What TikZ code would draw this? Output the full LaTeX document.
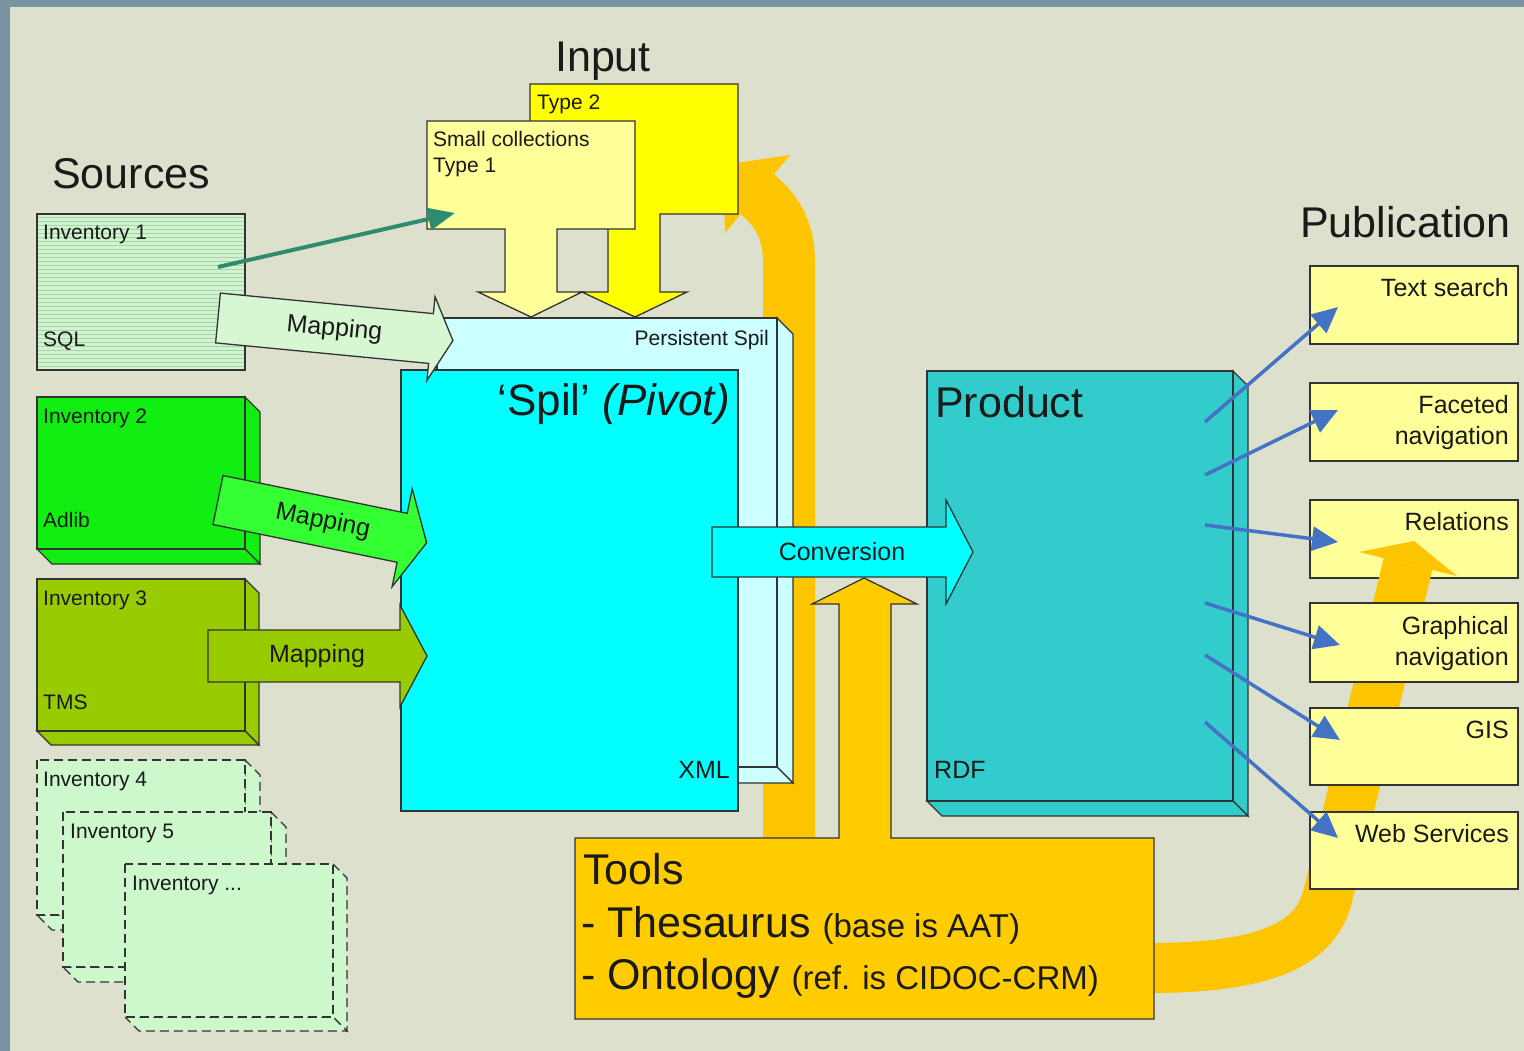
\documentclass[tikz,border=0pt]{standalone}
\usepackage{fontspec}
\setmainfont{Liberation Sans}
\usetikzlibrary{arrows.meta}
\definecolor{bgc}{HTML}{DDE0CD}
\definecolor{brd}{HTML}{7A93A3}
\definecolor{inv1}{HTML}{D2F3D2}
\definecolor{inv1s}{HTML}{A3D6A3}
\definecolor{inv2}{HTML}{11EE11}
\definecolor{inv3}{HTML}{99CC00}
\definecolor{invx}{HTML}{CCF8CC}
\definecolor{map1}{HTML}{D6F7D2}
\definecolor{map2}{HTML}{33FF33}
\definecolor{typeA}{HTML}{FFFF99}
\definecolor{typeB}{HTML}{FFFF00}
\definecolor{pers}{HTML}{CCFFFF}
\definecolor{spil}{HTML}{00FFFF}
\definecolor{prod}{HTML}{33CCCC}
\definecolor{tools}{HTML}{FFCC00}
\definecolor{orng}{HTML}{FCC500}
\definecolor{pubc}{HTML}{FFFF99}
\definecolor{blu}{HTML}{4472C4}
\definecolor{grn}{HTML}{2E8B6E}
\definecolor{ink}{HTML}{1A1A1A}
\definecolor{edge}{HTML}{333333}
\newcommand\cubebox[6]{%
  \draw[#6] (#3,#2) -- (#3+#5,#2+#5) -- (#3+#5,#4+#5) -- (#3,#4) -- cycle;
  \draw[#6] (#1,#4) -- (#3,#4) -- (#3+#5,#4+#5) -- (#1+#5,#4+#5) -- cycle;
  \draw[#6] (#1,#2) rectangle (#3,#4);
}
\begin{document}
\begin{tikzpicture}[x={(1pt,0)}, y={(0,-1pt)}, line join=miter,
  outl/.style={draw=edge, line width=1.3},
  txs/.style={font=\fontsize{21}{25}\selectfont, inner sep=0, text=ink},
  txm/.style={font=\fontsize{25}{30}\selectfont, inner sep=0, text=ink},
  txl/.style={font=\fontsize{43}{50}\selectfont, inner sep=0, text=ink},
  pubbox/.style={outl, fill=pubc},
  bluarrow/.style={draw=blu, line width=3.5, -{Triangle[length=26pt,width=24pt]}},
  dashbox/.style={outl, fill=invx, dash pattern=on 9pt off 5pt}]
\useasboundingbox (0,0) rectangle (1524,1051);
% background
\fill[brd] (0,0) rectangle (1524,1051);
\fill[bgc] (10,7) rectangle (1524,1051);

% top curved orange arrow
\draw[orng, line width=52] (789,842) -- (789,262) .. controls (789,228) and (775,209) .. (757,194);
\fill[orng] (790,155) -- (723,165) -- (725,233) -- cycle;

% input boxes
\draw[outl, fill=typeB] (530,84) -- (738,84) -- (738,214) -- (660,214) -- (660,292) -- (687,292) -- (635,317) -- (582,292) -- (608,292) -- (608,214) -- (530,214) -- cycle;
\draw[outl, fill=typeA] (427,121) -- (635,121) -- (635,229) -- (557,229) -- (557,292) -- (582,292) -- (531,317) -- (478,292) -- (505,292) -- (505,229) -- (427,229) -- cycle;
\node[txs, anchor=base west] (t2) at (537,110) {Type 2};
\node[txs, anchor=base west] (sc) at (433,147) {Small collections};
\node[txs, anchor=base west] (t1) at (433,173) {Type 1};

% persistent spil
\cubebox{437}{318}{777}{767}{16}{outl, fill=pers}
\node[txs, anchor=base east] (ps) at (769,345) {Persistent Spil};

% spil
\draw[outl, fill=spil] (401,370) rectangle (738,811);
\node[font=\fontsize{44}{50}\selectfont, inner sep=0, text=ink, anchor=base east] (spl) at (730,415) {‘Spil’ \textit{(Pivot)}};
\node[txm, anchor=base east] (xml) at (730,778) {XML};

% inventory 1
\fill[inv1] (37,214) rectangle (245,370);
\foreach \yy in {218,222,...,366} \draw[inv1s, line width=1] (38,\yy) -- (244,\yy);
\draw[outl] (37,214) rectangle (245,370);
\node[txs, anchor=base west] (i1) at (43,240) {Inventory 1};
\node[txs, anchor=base west] (sql) at (43,346) {SQL};

% inventory 2,3
\cubebox{37}{397}{245}{549}{15}{outl, fill=inv2}
\node[txs, anchor=base west] (i2) at (43,423) {Inventory 2};
\node[txs, anchor=base west] (adl) at (43,527) {Adlib};
\cubebox{37}{579}{245}{731}{14}{outl, fill=inv3}
\node[txs, anchor=base west] (i3) at (43,605) {Inventory 3};
\node[txs, anchor=base west] (tms) at (43,709) {TMS};

% inventory 4,5,...
\cubebox{37}{760}{245}{915}{15}{dashbox}
\node[txs, anchor=base west] (i4) at (43,786) {Inventory 4};
\cubebox{63}{812}{271}{967}{15}{dashbox}
\node[txs, anchor=base west] (i5) at (70,838) {Inventory 5};
\cubebox{125}{864}{333}{1017}{14}{dashbox}
\node[txs, anchor=base west] (ix) at (132,890) {Inventory ...};

% mapping arrows
\begin{scope}[shift={(218,318)}, rotate=-5.5]
  \draw[outl, fill=map1] (0,-25) -- (214,-25) -- (214,-42) -- (236,0) -- (214,42) -- (214,25) -- (0,25) -- cycle;
  \node[txm, transform shape] (m1) at (117,0) {Mapping};
\end{scope}
\begin{scope}[shift={(218,500)}, rotate=-11.6]
  \draw[outl, fill=map2] (0,-25) -- (188,-25) -- (188,-50) -- (213,0) -- (188,50) -- (188,25) -- (0,25) -- cycle;
  \node[txm, transform shape] (m2) at (107,0) {Mapping};
\end{scope}
\draw[outl, fill=inv3] (208,630) -- (400,630) -- (400,605) -- (427,656) -- (400,707) -- (400,682) -- (208,682) -- cycle;
\node[txm] (m3) at (317,656) {Mapping};

% green arrow
\coordinate (ga) at (218,267);
\coordinate (gb) at (455,213);
\draw[grn, line width=4, -{Triangle[length=27pt,width=22pt]}] (ga) -- (gb);

% product
\cubebox{927}{371}{1233}{801}{15}{outl, fill=prod}
\node[font=\fontsize{43}{50}\selectfont, inner sep=0, text=ink, anchor=base west] (prd) at (935,417) {Product};
\node[txm, anchor=base west] (rdf) at (934,778) {RDF};

% conversion
\draw[outl, fill=spil] (712,527) -- (946,527) -- (946,500) -- (973,552) -- (946,604) -- (946,577) -- (712,577) -- cycle;
\node[txm] (conv) at (842,552) {Conversion};

% publication boxes (upper)
\draw[pubbox] (1310,266) rectangle (1518,344);
\node[txm, anchor=base east] (ts) at (1509,297) {Text search};
\draw[pubbox] (1310,383) rectangle (1518,461);
\node[txm, anchor=base east] (fa1) at (1509,413) {Faceted};
\node[txm, anchor=base east] (fa2) at (1509,444) {navigation};
\draw[pubbox] (1310,500) rectangle (1518,578);
\node[txm, anchor=base east] (rel) at (1509,530) {Relations};

% bottom curved orange arrow
\draw[orng, line width=50] (1150,968) .. controls (1270,968) and (1317,942) .. (1328,895) -- (1408,564);
\fill[orng] (1359,552) -- (1414,541) -- (1457,576) -- cycle;

% tools
\draw[outl, fill=tools] (575,838) -- (839,838) -- (839,604) -- (812,604) -- (864,578) -- (917,604) -- (891,604) -- (891,838) -- (1154,838) -- (1154,1019) -- (575,1019) -- cycle;
\node[txl, anchor=base west] (tl) at (583,884) {Tools};
\node[txl, anchor=base west] (th) at (581,937) {- Thesaurus {\fontsize{33}{38}\selectfont (base is AAT)}};
\node[txl, anchor=base west] (on) at (581,989) {- Ontology {\fontsize{33}{38}\selectfont (ref. is CIDOC-CRM)}};

% publication boxes (lower)
\draw[pubbox] (1310,603) rectangle (1518,682);
\node[txm, anchor=base east] (gr1) at (1509,634) {Graphical};
\node[txm, anchor=base east] (gr2) at (1509,665) {navigation};
\draw[pubbox] (1310,708) rectangle (1518,785);
\node[txm, anchor=base east] (gis) at (1509,738) {GIS};
\draw[pubbox] (1310,812) rectangle (1518,889);
\node[txm, anchor=base east] (ws) at (1509,842) {Web Services};

% blue arrows
\coordinate (p1s) at (1205,422); \coordinate (p1e) at (1338,307);
\coordinate (p2s) at (1205,475); \coordinate (p2e) at (1338,410);
\coordinate (p3s) at (1205,525); \coordinate (p3e) at (1338,542);
\coordinate (p4s) at (1205,603); \coordinate (p4e) at (1340,645);
\coordinate (p5s) at (1205,655); \coordinate (p5e) at (1340,740);
\coordinate (p6s) at (1205,722); \coordinate (p6e) at (1338,838);
\foreach \i in {1,...,6} \draw[bluarrow] (p\i s) -- (p\i e);

% titles
\node[txl, anchor=base west] (src) at (52,189) {Sources};
\node[txl, anchor=base] (inp) at (603,72) {Input};
\node[txl, anchor=base west] (pub) at (1300,238) {Publication};
\end{tikzpicture}
\end{document}
